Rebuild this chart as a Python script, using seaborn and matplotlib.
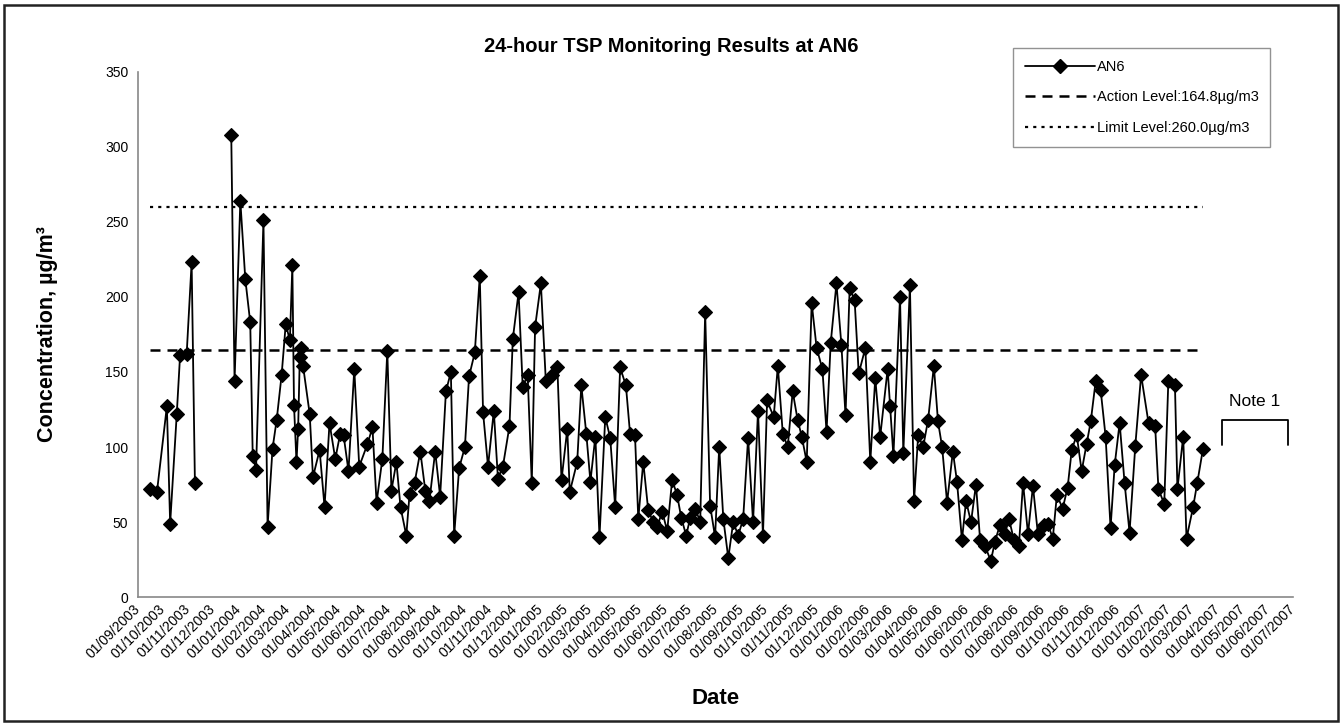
import matplotlib
matplotlib.use("Agg")
import pandas as pd
import matplotlib.pyplot as plt
import matplotlib.dates as mdates
from matplotlib.lines import Line2D
from matplotlib.patches import Rectangle
import seaborn as sns

# axis range of the date axis
start_date = "2003-09-01"
end_date = "2007-07-01"

# sampling day (days after 01/09/2003) and 24-hour TSP (ug/m3)
sample_day = [15, 23, 35, 39, 47, 51, 59, 65, 69,
              113, 117, 124, 130, 136, 139, 143, 152, 157, 163, 168, 174, 179, 184, 187, 189,
              192, 194, 196, 197, 200, 208, 212, 220, 226, 232, 239, 245, 249, 255, 262, 268,
              278, 284, 289, 296, 302, 307, 313, 318, 325, 329, 335, 342, 348, 353, 360, 366,
              373, 379, 383, 389, 396, 401, 408, 414, 418, 424, 431, 436, 442, 450, 454, 461,
              466, 472, 477, 481, 488, 494, 501, 508, 513, 520, 523, 532, 537, 543, 548, 554,
              559, 566, 572, 578, 584, 591, 596, 602, 606, 612, 618, 624, 629, 635, 641, 647,
              653, 658, 664, 669, 675, 681, 687, 693, 699, 704, 709, 715, 721, 727, 733, 739,
              745, 751, 757, 762, 770, 775, 781, 787, 793, 799, 804, 810, 816, 822, 829, 834,
              839, 846, 852, 857, 862, 868, 873, 881, 887, 893, 899, 908, 911, 915, 923, 927,
              935, 940, 945, 951, 957, 964, 969, 974, 980, 987, 992, 998, 1003, 1009, 1015, 1020,
              1026, 1033, 1038, 1044, 1050, 1055, 1061, 1067, 1072, 1078, 1084, 1090, 1097, 1102,
              1108, 1113, 1120, 1126, 1131, 1137, 1143, 1149, 1154, 1160, 1166, 1172, 1178, 1183,
              1189, 1195, 1201, 1208, 1215, 1224, 1232, 1236, 1243, 1248, 1256, 1259, 1266, 1270,
              1278, 1283, 1290]
tsp = [72, 70, 127, 49, 122, 161, 162, 223, 76,
       308, 144, 264, 212, 183, 94, 85, 251, 47, 99, 118, 148, 182, 171, 221, 128,
       90, 112, 160, 166, 154, 122, 80, 98, 60, 116, 92, 109, 108, 84, 152, 87,
       102, 113, 63, 92, 164, 71, 90, 60, 41, 69, 76, 97, 71, 64, 97, 67,
       137, 150, 41, 86, 100, 147, 163, 214, 123, 87, 124, 79, 87, 114, 172, 203,
       140, 148, 76, 180, 209, 144, 148, 153, 78, 112, 70, 90, 141, 109, 77, 107,
       40, 120, 106, 60, 153, 141, 109, 108, 52, 90, 58, 50, 47, 57, 44, 78,
       68, 53, 41, 53, 59, 50, 190, 61, 40, 100, 52, 26, 50, 41, 52, 106,
       50, 124, 41, 131, 120, 154, 109, 100, 137, 118, 107, 90, 196, 166, 152, 110,
       169, 209, 168, 121, 206, 198, 149, 166, 90, 146, 107, 152, 127, 94, 200, 96,
       208, 64, 108, 100, 118, 154, 117, 100, 63, 97, 77, 38, 64, 50, 75, 38,
       34, 24, 37, 48, 42, 52, 38, 34, 76, 42, 74, 42, 48, 49,
       39, 68, 59, 73, 98, 108, 84, 102, 117, 144, 138, 107, 46, 88,
       116, 76, 43, 101, 148, 116, 114, 72, 62, 144, 141, 72, 107, 39,
       60, 76, 99]
# no line is drawn across the Dec 2003 gap: first 9 samples are a separate run
run = [1] * 9 + [2] * (len(tsp) - 9)

action_level = 164.8
limit_level = 260.0
labels = ["AN6", "Action Level:164.8\u00b5g/m3", "Limit Level:260.0\u00b5g/m3"]

df = pd.DataFrame({
    "date": pd.Timestamp(start_date) + pd.to_timedelta(sample_day, unit="D"),
    "tsp": tsp,
    "run": run,
})

sns.set_style("white")
plt.rcParams["font.family"] = ["Liberation Sans", "DejaVu Sans"]
plt.rcParams["text.color"] = "black"
plt.rcParams["xtick.labelcolor"] = "black"
plt.rcParams["ytick.labelcolor"] = "black"

fig = plt.figure(figsize=(13.42, 7.27), dpi=100)
ax = fig.add_axes([0.1028, 0.1788, 0.8607, 0.7222])

sns.lineplot(data=df, x="date", y="tsp", units="run", estimator=None,
             color="black", linewidth=1.3, marker="D", markersize=7,
             markeredgecolor="black", markeredgewidth=0.8, legend=False, ax=ax)

first, last = df["date"].iloc[0], df["date"].iloc[-1]
ax.hlines(action_level, first, last, colors="black", linewidth=1.8, linestyles=(0, (4, 2.8)))
ax.hlines(limit_level, first, last, colors="black", linewidth=1.6, linestyles=(0, (1.4, 2.3)))

ax.set_xlim(pd.Timestamp(start_date), pd.Timestamp(end_date))
ax.set_ylim(0, 350)
ax.set_yticks(range(0, 351, 50))
ax.xaxis.set_major_locator(mdates.MonthLocator())
ax.xaxis.set_major_formatter(mdates.DateFormatter("%d/%m/%Y"))
ax.tick_params(axis="both", direction="out", length=4, width=1, color="#888888")
ax.tick_params(axis="x", labelsize=10, pad=3)
ax.tick_params(axis="y", labelsize=10, pad=3)
for lab in ax.get_xticklabels():
    lab.set_rotation(45)
    lab.set_ha("right")
    lab.set_va("center")
    lab.set_rotation_mode("anchor")
for s in ["top", "right"]:
    ax.spines[s].set_visible(False)
for s in ["left", "bottom"]:
    ax.spines[s].set_color("#888888")
    ax.spines[s].set_linewidth(1.2)
ax.set_xlabel("")
ax.set_ylabel("")

fig.text(0.5, 1 - 47 / 727, "24-hour TSP Monitoring Results at AN6",
         ha="center", va="center", fontsize=14.5, fontweight="bold")
fig.text(48 / 1342, 1 - 334 / 727, "Concentration, \u00b5g/m\u00b3", rotation=90,
         ha="center", va="center", fontsize=15.5, fontweight="bold")
fig.text(716 / 1342, 1 - 698 / 727, "Date", ha="center", va="center",
         fontsize=16, fontweight="bold")

# Note 1 bracket
ax.plot([0.9385, 0.9385, 0.9957, 0.9957], [0.289, 0.337, 0.337, 0.289],
        transform=ax.transAxes, color="black", linewidth=1.3, clip_on=False)
ax.text(0.967, 0.372, "Note 1", transform=ax.transAxes, ha="center", va="center",
        fontsize=12.5)

handles = [
    Line2D([], [], color="black", linewidth=1.3, marker="D", markersize=7),
    Line2D([], [], color="black", linewidth=1.8, linestyle=(0, (4, 2.8))),
    Line2D([], [], color="black", linewidth=1.6, linestyle=(0, (1.4, 2.3))),
]
leg = fig.legend(handles, labels, loc="upper left", bbox_to_anchor=(1013 / 1342, 1 - 48 / 727),
                 frameon=True, fancybox=False, edgecolor="#777777", fontsize=10.5,
                 handlelength=4.8, handletextpad=0.15, labelspacing=1.15, borderpad=0.8,
                 borderaxespad=0)
leg.get_frame().set_linewidth(1.0)

fig.patches.append(Rectangle((0.003, 0.008), 0.994, 0.985, transform=fig.transFigure,
                             fill=False, edgecolor="#222222", linewidth=1.8))

fig.savefig("out.png", dpi=100)
